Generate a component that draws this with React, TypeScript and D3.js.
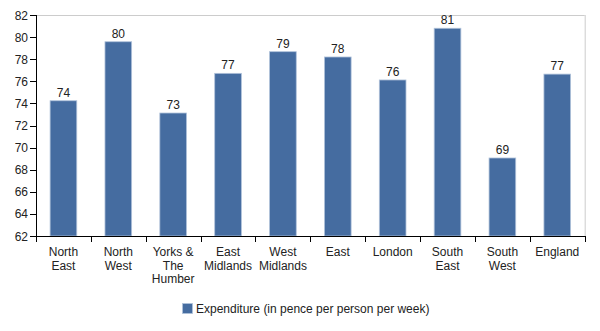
import React from "react";
import * as d3 from "d3";

const categories: string[][] = [
  ["North", "East"],
  ["North", "West"],
  ["Yorks &", "The", "Humber"],
  ["East", "Midlands"],
  ["West", "Midlands"],
  ["East"],
  ["London"],
  ["South", "East"],
  ["South", "West"],
  ["England"],
];
const values: number[] = [74.24, 79.58, 73.13, 76.72, 78.68, 78.2, 76.12, 80.8, 69.06, 76.65];
const yTicks: number[] = [62, 64, 66, 68, 70, 72, 74, 76, 78, 80, 82];
const seriesName = "Expenditure (in pence per person per week)";

const W = 600;
const H = 331;
const left = 36;
const right = 584.7;
const top = 15;
const bottom = 236;
const font = "'Liberation Sans', Arial, sans-serif";
const barFill = "#456ca0";

export default function App() {
  const idx = categories.map((_, i) => i);
  const x = d3.scaleBand<number>().domain(idx).range([left, right]).paddingInner(0).paddingOuter(0);
  const y = d3.scaleLinear().domain([62, 82]).range([bottom, top]);
  const bw = x.bandwidth();
  const barW = bw * 0.486;

  return (
    <svg width={W} height={H} style={{ position: "absolute", left: 0, top: 0, background: "#fff" }} fontFamily={font}>
      {/* frame */}
      <line x1={left} x2={right} y1={top + 0.5} y2={top + 0.5} stroke="#cccccc" />
      <line x1={right + 0.5} x2={right + 0.5} y1={top} y2={bottom} stroke="#cccccc" />
      {/* bars */}
      {values.map((v, i) => {
        const cx = (x(i) as number) + bw / 2;
        return (
          <g key={i}>
            <rect
              x={cx - barW / 2}
              y={y(v)}
              width={barW}
              height={bottom - y(v)}
              fill={barFill}
              stroke="#b0c2da"
              strokeWidth={0.8}
            />
            <text x={cx} y={y(v) - 4} textAnchor="middle" fontSize={12} fill="#222">
              {Math.round(v)}
            </text>
          </g>
        );
      })}
      {/* y axis */}
      <line x1={left + 0.5} x2={left + 0.5} y1={top} y2={bottom} stroke="#000" />
      {yTicks.map((t) => (
        <g key={t}>
          <line x1={left - 6} x2={left} y1={Math.round(y(t)) + 0.5} y2={Math.round(y(t)) + 0.5} stroke="#000" />
          <text x={left - 8} y={y(t) + 4.5} textAnchor="end" fontSize={12} fill="#222">
            {t}
          </text>
        </g>
      ))}
      {/* x axis */}
      <line x1={left} x2={right + 0.5} y1={bottom + 0.5} y2={bottom + 0.5} stroke="#000" />
      {[...idx, idx.length].map((i) => {
        const xx = i < idx.length ? (x(i) as number) : right;
        return <line key={i} x1={Math.round(xx) + 0.5} x2={Math.round(xx) + 0.5} y1={bottom} y2={bottom + 6} stroke="#000" />;
      })}
      {categories.map((lines, i) => {
        const cx = (x(i) as number) + bw / 2;
        return (
          <text key={i} x={cx} y={256} textAnchor="middle" fontSize={12} fill="#222">
            {lines.map((l, j) => (
              <tspan key={j} x={cx} dy={j === 0 ? 0 : 13.5}>
                {l}
              </tspan>
            ))}
          </text>
        );
      })}
      {/* legend */}
      <rect x={182.5} y={303.5} width={10} height={10} fill={barFill} stroke="#b0c2da" strokeWidth={0.8} />
      <text x={196} y={313} fontSize={12} fill="#222">
        {seriesName}
      </text>
    </svg>
  );
}
